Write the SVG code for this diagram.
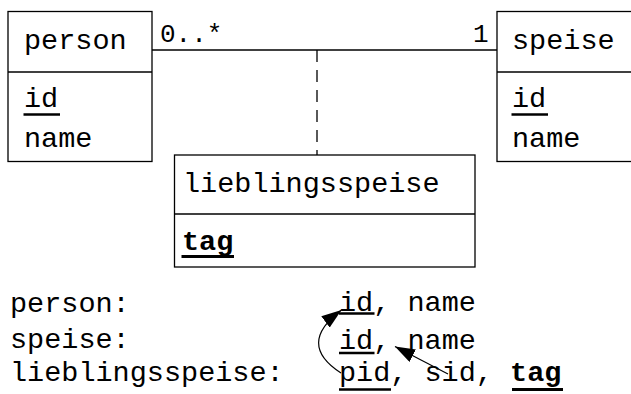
<svg xmlns="http://www.w3.org/2000/svg" width="631" height="394" viewBox="0 0 631 394">
<style>
text{font-family:"Liberation Mono","Courier New",monospace;font-size:28.5px;fill:#000}
.m{font-size:26px}
.b{font-weight:bold}
.box{fill:#fff;stroke:#000;stroke-width:1.3}
.ln{stroke:#000;stroke-width:1.3;fill:none}
.ul{stroke:#000;stroke-width:2.5}
.ulb{stroke:#000;stroke-width:3}
.ar{stroke:#000;stroke-width:1.2;fill:none}
</style>
<defs>
<marker id="ah" markerUnits="userSpaceOnUse" markerWidth="20" markerHeight="14" refX="20" refY="7" orient="auto">
<path d="M0,0 L20,7 L0,14 z" fill="#000"/>
</marker>
</defs>
<g id="connectors">
<line class="ln" x1="152" y1="50" x2="497" y2="50"/>
<line class="ln" x1="317" y1="50" x2="317" y2="155" stroke-dasharray="12 8"/>
<text class="m" x="160" y="42">0..*</text>
<text class="m" x="473" y="42">1</text>
</g>
<g id="person">
<rect class="box" x="8" y="11.5" width="144" height="150"/>
<line class="ln" x1="8" y1="72" x2="152" y2="72"/>
<text x="24" y="49">person</text>
<text x="24" y="107">id</text>
<line class="ul" x1="23.5" y1="114.5" x2="60" y2="114.5"/>
<text x="24" y="147">name</text>
</g>
<g id="speise">
<rect class="box" x="497" y="11.5" width="150" height="150"/>
<line class="ln" x1="497" y1="72" x2="640" y2="72"/>
<text x="512" y="49">speise</text>
<text x="512" y="107">id</text>
<line class="ul" x1="511.5" y1="114.5" x2="548" y2="114.5"/>
<text x="512" y="147">name</text>
</g>
<g id="lieblingsspeise">
<rect class="box" x="174.5" y="155" width="300.5" height="112"/>
<line class="ln" x1="174.5" y1="214" x2="475" y2="214"/>
<text x="183" y="192">lieblingsspeise</text>
<text class="b" x="182" y="250">tag</text>
<line class="ulb" x1="181.5" y1="256.5" x2="234" y2="256.5"/>
</g>
<g id="schema">
<text x="10" y="311.5">person:</text>
<text x="10" y="348">speise:</text>
<text x="10" y="381">lieblingsspeise:</text>
<text x="339" y="311"><tspan>id</tspan>, name</text>
<line class="ul" x1="339" y1="313.5" x2="374.5" y2="313.5"/>
<text x="339" y="349"><tspan>id</tspan>, name</text>
<line class="ul" x1="339" y1="353" x2="374.5" y2="353"/>
<text x="339" y="381">pid, sid, <tspan class="b">tag</tspan></text>
<line class="ul" x1="339" y1="389.5" x2="391" y2="389.5"/>
<line class="ulb" x1="512" y1="389.5" x2="563" y2="389.5"/>
</g>
<g id="fk-arrows">
<path class="ar" d="M 341 373 Q 296 344 341.5 310" marker-end="url(#ah)"/>
<line class="ar" x1="448" y1="374" x2="395" y2="346.5" marker-end="url(#ah)"/>
</g>
</svg>
